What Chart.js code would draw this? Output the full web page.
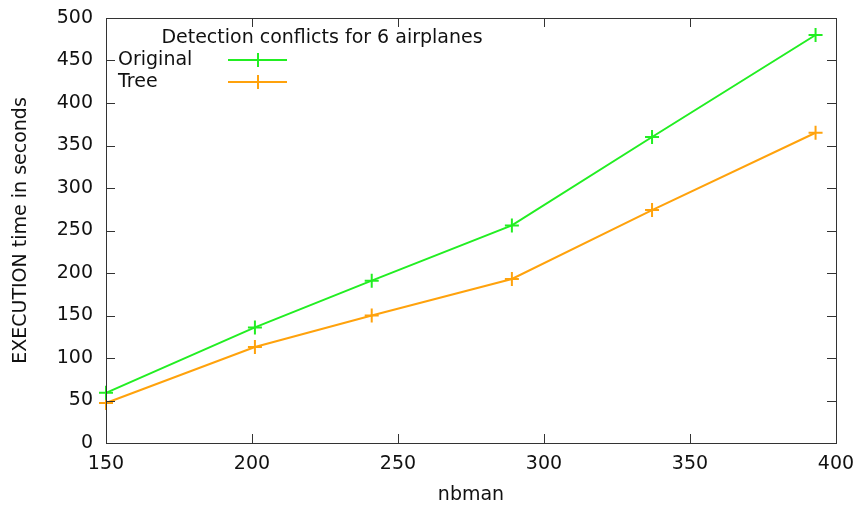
<!DOCTYPE html>
<html>
<head>
<meta charset="utf-8">
<script src="https://cdn.jsdelivr.net/npm/chart.js@4/dist/chart.umd.min.js"></script>
<style>
  html, body { margin: 0; padding: 0; background: #fff; }
  #wrap { width: 858px; height: 510px; }
</style>
</head>
<body>
<div id="wrap"><canvas id="chart"></canvas></div>
<script>
// data
const nbman = [150, 201, 241, 289, 337, 393];
const original = [59, 136, 191, 256, 360, 480];
const tree = [47, 113, 150, 193, 274, 365];
const legendTitle = 'Detection conflicts for 6 airplanes';

const FONT = "'DejaVu Sans', sans-serif";
const FS = 19;
Chart.defaults.font.family = FONT;
Chart.defaults.color = '#111';

const toXY = ys => nbman.map((x, i) => ({ x: x, y: ys[i] }));

// gnuplot-like frame, inward ticks and key
const gnuplotFrame = {
  id: 'gnuplotFrame',
  afterDatasetsDraw(chart) {
    const { ctx, chartArea: a, scales } = chart;
    ctx.save();
    ctx.strokeStyle = '#333';
    ctx.lineWidth = 1;
    ctx.strokeRect(a.left + 0.5, a.top + 0.5, a.right - a.left, a.bottom - a.top);
    const len = 9;
    ctx.beginPath();
    scales.x.ticks.forEach(t => {
      const px = Math.round(scales.x.getPixelForValue(t.value)) + 0.5;
      ctx.moveTo(px, a.bottom); ctx.lineTo(px, a.bottom - len);
      ctx.moveTo(px, a.top); ctx.lineTo(px, a.top + len);
    });
    scales.y.ticks.forEach(t => {
      const py = Math.round(scales.y.getPixelForValue(t.value)) + 0.5;
      ctx.moveTo(a.left, py); ctx.lineTo(a.left + len, py);
      ctx.moveTo(a.right, py); ctx.lineTo(a.right - len, py);
    });
    ctx.stroke();

    // key
    ctx.font = FS + 'px ' + FONT;
    ctx.fillStyle = '#111';
    ctx.textBaseline = 'middle';
    ctx.textAlign = 'center';
    ctx.fillText(legendTitle, 322, 38);
    ctx.textAlign = 'left';
    chart.data.datasets.forEach((ds, i) => {
      const y = 60 + i * 22;
      ctx.fillStyle = '#111';
      ctx.fillText(ds.label, 118, y);
      ctx.strokeStyle = ds.borderColor;
      ctx.lineWidth = 2;
      ctx.beginPath();
      ctx.moveTo(228, y); ctx.lineTo(287, y);
      ctx.moveTo(258, y - 7); ctx.lineTo(258, y + 7);
      ctx.stroke();
    });
    ctx.restore();
  }
};

const series = (label, ys, color) => ({
  label: label,
  data: toXY(ys),
  borderColor: color,
  backgroundColor: color,
  borderWidth: 2,
  pointStyle: 'cross',
  pointRadius: 7,
  pointBorderWidth: 2,
  pointHoverRadius: 7,
  tension: 0,
  fill: false,
  clip: false
});

new Chart(document.getElementById('chart'), {
  type: 'line',
  data: {
    datasets: [
      series('Original', original, '#22ee22'),
      series('Tree', tree, '#ffa20c')
    ]
  },
  plugins: [gnuplotFrame],
  options: {
    responsive: true,
    maintainAspectRatio: false,
    animation: false,
    layout: { autoPadding: false, padding: { top: 18, right: 22, left: 0, bottom: 0 } },
    plugins: {
      legend: { display: false },
      tooltip: { enabled: false }
    },
    scales: {
      x: {
        type: 'linear',
        min: 150, max: 400,
        afterFit: s => { s.height = 67; s.paddingLeft = 0; s.paddingRight = 0; },
        grid: { display: false, drawTicks: false },
        border: { display: false },
        ticks: { stepSize: 50, padding: 10, font: { size: FS }, color: '#111' },
        title: { display: true, text: 'nbman', font: { size: FS }, color: '#111', padding: { top: 0, bottom: 4 } }
      },
      y: {
        min: 0, max: 500,
        afterFit: s => { s.width = 106; s.paddingTop = 0; s.paddingBottom = 0; },
        grid: { display: false, drawTicks: false },
        border: { display: false },
        ticks: { stepSize: 50, padding: 13, font: { size: FS }, color: '#111' },
        title: { display: true, text: 'EXECUTION time in seconds', font: { size: FS }, color: '#111', padding: { top: 10, bottom: 0 } }
      }
    }
  }
});
</script>
</body>
</html>
